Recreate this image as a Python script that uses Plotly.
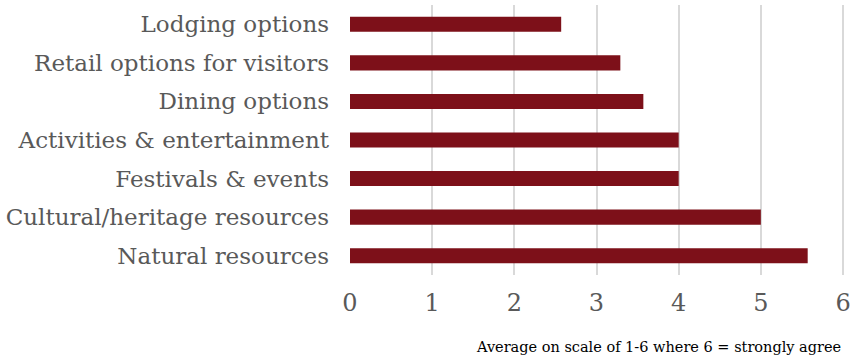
import plotly.graph_objects as go

categories = ["Lodging options", "Retail options for visitors", "Dining options",
              "Activities & entertainment", "Festivals & events",
              "Cultural/heritage resources", "Natural resources"]
values = [2.57, 3.29, 3.57, 4.0, 4.0, 5.0, 5.57]
x_ticks = [0, 1, 2, 3, 4, 5, 6]
axis_note = "Average on scale of 1-6 where 6 = strongly agree"

FONT = "DejaVu Serif"

fig = go.Figure(go.Bar(
    y=categories, x=values, orientation="h",
    marker=dict(color="#7D1019", line=dict(width=0)),
    width=0.39,
))

fig.update_layout(
    width=850, height=360,
    margin=dict(l=350, r=5, t=5, b=85, autoexpand=False),
    paper_bgcolor="white", plot_bgcolor="white",
    showlegend=False,
    font=dict(family=FONT, color="#595959"),
    xaxis=dict(range=[0, 6.024], tickvals=x_ticks, showgrid=True, gridcolor="#D9D9D9",
               gridwidth=1.5, zeroline=False, showline=False, automargin=False,
               tickfont=dict(size=24, color="#595959"), ticklabelstandoff=11,
               ticklabeloverflow="allow", fixedrange=True),
    yaxis=dict(categoryorder="array", categoryarray=categories, autorange="reversed",
               showgrid=False, zeroline=False, showline=False, automargin=False,
               tickfont=dict(size=23, color="#595959"), ticklabelstandoff=20,
               fixedrange=True),
    annotations=[dict(text=axis_note, xref="paper", yref="paper", x=0.25, y=-0.265,
                      xanchor="left", yanchor="middle", showarrow=False,
                      font=dict(size=14.5, color="#000000", family=FONT))],
)

fig.write_html("out.html")
